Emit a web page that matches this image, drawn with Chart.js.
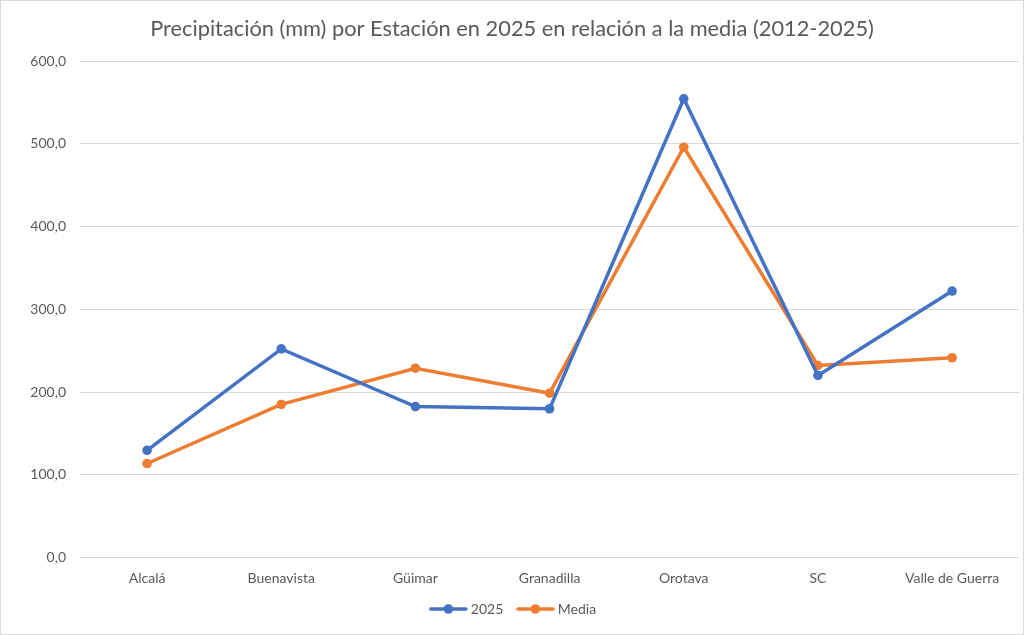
<!DOCTYPE html>
<html>
<head>
<meta charset="utf-8">
<script src="https://cdn.jsdelivr.net/npm/chart.js@4/dist/chart.umd.min.js"></script>
<style>
html,body{margin:0;padding:0;background:#fff;}
#wrap{width:1024px;height:635px;position:relative;}
</style>
</head>
<body>
<div id="wrap"><canvas id="c" width="1024" height="635"></canvas></div>
<script>
const categories = ["Alcalá","Buenavista","Güimar","Granadilla","Orotava","SC","Valle de Guerra"];
const values2025 = [129.7, 252.3, 182.6, 180.0, 554.5, 220.2, 322.2];
const valuesMedia = [113.8, 185.2, 229.0, 198.8, 496.0, 232.3, 241.6];
const yTicks = [0, 100, 200, 300, 400, 500, 600];
const titleText = "Precipitación (mm) por Estación en 2025 en relación a la media (2012-2025)";

const BLUE = "#4472C4", ORANGE = "#ED7D31", TXT = "#595959", GRID = "#D9D9D9";
const FONT = "Lato, 'Noto Sans', sans-serif";

function legendMarker(color){
  const c = document.createElement('canvas');
  c.width = 44; c.height = 12;
  const g = c.getContext('2d');
  g.strokeStyle = color; g.lineWidth = 3.5; g.lineCap = 'round';
  g.beginPath(); g.moveTo(7,6); g.lineTo(42,6); g.stroke();
  g.fillStyle = color; g.beginPath(); g.arc(24.5,6,4.8,0,Math.PI*2); g.fill();
  return c;
}
const markers = [legendMarker(BLUE), legendMarker(ORANGE)];

const bgPlugin = {
  id:'bg',
  beforeDraw(chart){
    const ctx = chart.ctx;
    ctx.save();
    ctx.fillStyle = '#fff';
    ctx.fillRect(0,0,chart.width,chart.height);
    ctx.strokeStyle = GRID; ctx.lineWidth = 1;
    ctx.strokeRect(0.5,0.5,chart.width-1,chart.height-1);
    ctx.restore();
  }
};

new Chart(document.getElementById('c'), {
  type: 'line',
  data: {
    labels: categories,
    datasets: [
      {label:'2025', data: values2025, borderColor: BLUE, backgroundColor: BLUE,
       borderWidth: 3.5, pointRadius: 4.8, pointHoverRadius: 4.8, pointBackgroundColor: BLUE, pointBorderWidth: 0, tension: 0},
      {label:'Media', data: valuesMedia, borderColor: ORANGE, backgroundColor: ORANGE,
       borderWidth: 3.5, pointRadius: 4.8, pointHoverRadius: 4.8, pointBackgroundColor: ORANGE, pointBorderWidth: 0, tension: 0}
    ]
  },
  options: {
    responsive: false,
    animation: false,
    devicePixelRatio: 1,
    layout: {padding: {top: 10, right: 0, bottom: 9, left: 0}},
    plugins: {
      title: {display: true, text: titleText, color: TXT,
        font: {family: FONT, size: 21.8, weight: 'normal'}, padding: {top: 6, bottom: 19}},
      legend: {position: 'bottom',
        labels: {usePointStyle: true, pointStyleWidth: 36, boxHeight: 12, color: TXT,
          font: {family: FONT, size: 14}, padding: 11.5,
          generateLabels(chart){
            return chart.data.datasets.map((ds,i)=>({
              text: ds.label, fillStyle: ds.borderColor, strokeStyle: ds.borderColor,
              pointStyle: markers[i], datasetIndex: i, hidden: false, fontColor: TXT, lineWidth: 0
            }));
          }
        }
      },
      tooltip: {enabled: false}
    },
    scales: {
      x: {offset: true, grid: {display: false}, border: {display: false},
        ticks: {color: TXT, font: {family: FONT, size: 14}, padding: 4, maxRotation: 0, autoSkip: false}},
      y: {min: 0, max: 600, border: {display: false},
        afterBuildTicks(scale){ scale.ticks = yTicks.map(v=>({value:v})); },
        afterFit(scale){ scale.width = 80; },
        grid: {color: GRID, lineWidth: 1, drawTicks: false},
        ticks: {color: TXT, font: {family: FONT, size: 14}, padding: 14,
          callback: v => v.toFixed(1).replace('.', ',')}}
    }
  },
  plugins: [bgPlugin]
});
</script>
</body>
</html>
